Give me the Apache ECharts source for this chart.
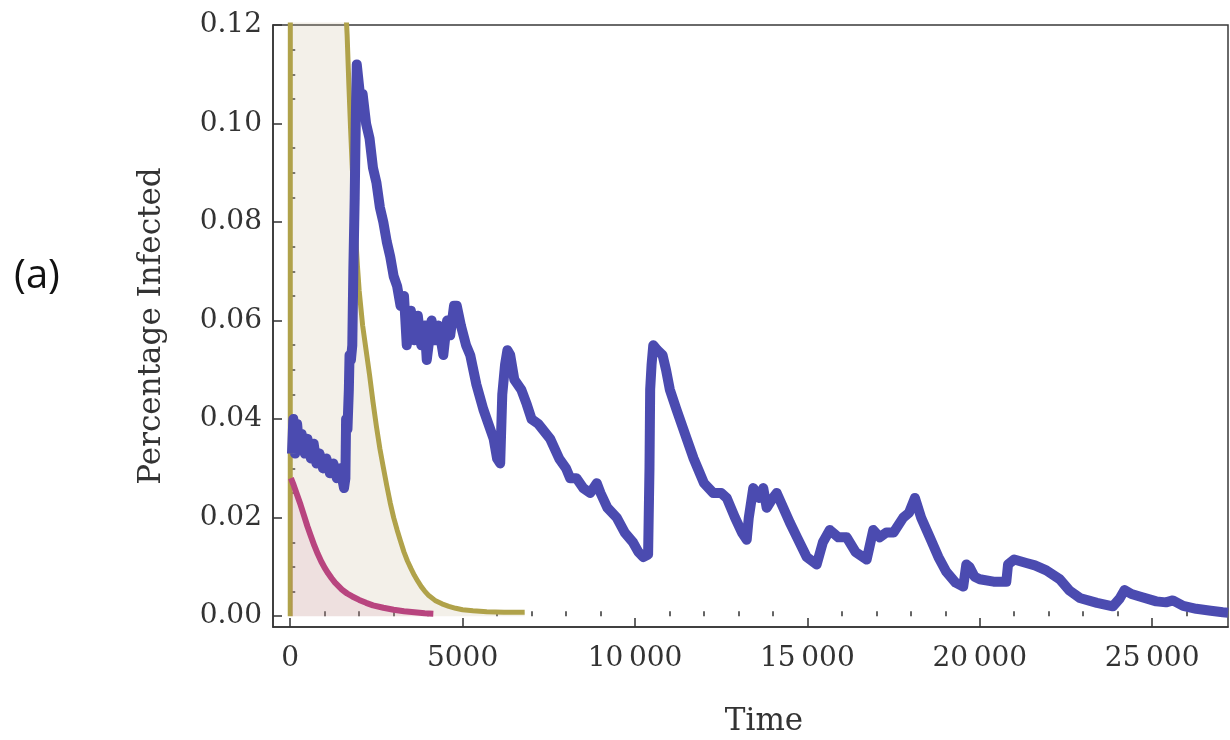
<!DOCTYPE html>
<html>
<head>
<meta charset="utf-8">
<script src="https://cdn.jsdelivr.net/npm/echarts@6/dist/echarts.min.js"></script>
<style>
html,body{margin:0;padding:0;background:#fff;}
#chart{width:1230px;height:740px;}
</style>
</head>
<body>
<div id="chart"></div>
<script>
// ---------- data ----------
const xTickValues = [0, 5000, 10000, 15000, 20000, 25000];
const xTickLabels = ['0', '5000', '10\u2009000', '15\u2009000', '20\u2009000', '25\u2009000'];
const xMinorTicks = [1000,2000,3000,4000,6000,7000,8000,9000,11000,12000,13000,14000,16000,17000,18000,19000,21000,22000,23000,24000,26000,27000];
const yTickValues = [0, 0.02, 0.04, 0.06, 0.08, 0.10, 0.12];
const yTickLabels = ['0.00', '0.02', '0.04', '0.06', '0.08', '0.10', '0.12'];
const yMinorTicks = [0.005,0.01,0.015,0.025,0.03,0.035,0.045,0.05,0.055,0.065,0.07,0.075,0.085,0.09,0.095,0.105,0.11,0.115];

// olive series (rises far above the plot range at t = 0, clipped)
const oliveSeries = [
  [0,0],[5,0.30],[800,0.22],[1400,0.15],[1600,0.125],[1650,0.118],[1700,0.108],[1750,0.099],
  [1800,0.091],[1850,0.084],[1900,0.077],[1950,0.071],[2000,0.066],[2100,0.059],[2200,0.054],
  [2300,0.049],[2400,0.0435],[2500,0.0385],[2600,0.034],[2700,0.0302],[2800,0.0265],[2900,0.023],
  [3000,0.020],[3100,0.0175],[3200,0.0152],[3300,0.013],[3400,0.0112],[3500,0.0097],[3600,0.0083],
  [3700,0.0071],[3800,0.006],[3900,0.0051],[4000,0.0043],[4200,0.0032],[4400,0.0025],[4600,0.002],
  [4800,0.0016],[5000,0.0013],[5300,0.0011],[5700,0.0009],[6200,0.0008],[6800,0.0008]
];

// magenta series
const pinkSeries = [
  [20,0.028],[100,0.0266],[200,0.0246],[300,0.0226],[400,0.0204],[500,0.0182],[600,0.0162],
  [700,0.0143],[800,0.0126],[900,0.0111],[1000,0.0098],[1100,0.0087],[1200,0.0077],[1300,0.0068],
  [1400,0.0061],[1500,0.0054],[1650,0.0046],[1800,0.004],[2000,0.0033],[2200,0.0027],[2400,0.0022],
  [2700,0.0017],[3000,0.0013],[3300,0.001],[3600,0.0008],[3900,0.0006],[4150,0.0005]
];

// blue (stochastic) series
const blueSeries = [
  [50,0.033],[90,0.040],[140,0.033],[200,0.039],[260,0.034],[330,0.037],[420,0.033],[500,0.036],
  [600,0.032],[680,0.035],[760,0.031],[850,0.033],[950,0.030],[1050,0.032],[1150,0.029],[1250,0.031],
  [1350,0.028],[1450,0.030],[1560,0.026],[1600,0.028],[1620,0.040],[1660,0.038],[1700,0.046],
  [1720,0.053],[1760,0.052],[1800,0.055],[1830,0.070],[1870,0.085],[1900,0.100],[1930,0.112],
  [1980,0.112],[2050,0.104],[2100,0.106],[2200,0.100],[2300,0.097],[2400,0.091],[2500,0.088],
  [2600,0.083],[2700,0.080],[2800,0.076],[2900,0.073],[3000,0.069],[3100,0.067],[3200,0.063],
  [3300,0.065],[3380,0.055],[3500,0.062],[3600,0.056],[3700,0.061],[3800,0.055],[3900,0.059],
  [3960,0.052],[4100,0.060],[4200,0.056],[4300,0.059],[4440,0.053],[4550,0.060],[4640,0.057],
  [4750,0.063],[4830,0.063],[4950,0.059],[5100,0.055],[5220,0.053],[5400,0.047],[5600,0.042],
  [5750,0.039],[5900,0.036],[6000,0.032],[6090,0.031],[6150,0.045],[6230,0.051],[6300,0.054],
  [6380,0.053],[6500,0.048],[6700,0.046],[6860,0.043],[7000,0.040],[7200,0.039],[7540,0.036],
  [7800,0.032],[8000,0.030],[8120,0.028],[8300,0.028],[8500,0.026],[8700,0.025],[8890,0.027],
  [9000,0.025],[9200,0.022],[9470,0.020],[9700,0.017],[9940,0.015],[10100,0.013],[10240,0.012],
  [10380,0.0125],[10420,0.030],[10440,0.046],[10480,0.051],[10530,0.055],[10650,0.054],[10800,0.053],
  [10900,0.050],[11010,0.046],[11200,0.042],[11500,0.036],[11700,0.032],[11880,0.029],[12000,0.027],
  [12270,0.025],[12500,0.025],[12660,0.024],[12900,0.020],[13100,0.017],[13240,0.0155],[13300,0.020],
  [13430,0.026],[13600,0.024],[13720,0.026],[13820,0.022],[14000,0.024],[14110,0.025],[14300,0.022],
  [14490,0.019],[14700,0.016],[14980,0.012],[15270,0.0105],[15450,0.015],[15650,0.0175],[15900,0.016],
  [16140,0.016],[16400,0.013],[16720,0.0115],[16800,0.014],[16910,0.0175],[17100,0.016],[17290,0.017],
  [17500,0.017],[17780,0.020],[17950,0.021],[18120,0.024],[18300,0.020],[18550,0.016],[18800,0.012],
  [19030,0.009],[19300,0.0068],[19520,0.006],[19610,0.0105],[19700,0.010],[19850,0.008],[20000,0.0075],
  [20400,0.007],[20770,0.007],[20820,0.0105],[21000,0.0115],[21350,0.0108],[21600,0.0103],[21930,0.0093],
  [22320,0.0075],[22600,0.0052],[22900,0.0037],[23400,0.0027],[23860,0.002],[24050,0.0035],
  [24200,0.0053],[24400,0.0045],[24640,0.004],[25120,0.003],[25400,0.0028],[25600,0.0032],
  [25900,0.0021],[26280,0.0015],[26700,0.0011],[27050,0.0008],[27200,0.0007]
];

// ---------- chart ----------
const X_MIN = -500, X_MAX = 27200, Y_MIN = -0.0022, Y_MAX = 0.12;
const serif = 'DejaVu Serif';
const axisColor = '#333';

const chart = echarts.init(document.getElementById('chart'), null, {renderer: 'canvas'});

const majorX = {
  type: 'value', min: X_MIN, max: X_MAX, position: 'bottom',
  axisLine: {show: true, onZero: false, lineStyle: {color: axisColor, width: 1.5}},
  axisTick: {show: true, inside: true, length: 9, customValues: xTickValues, lineStyle: {color: axisColor, width: 1.5}},
  axisLabel: {show: true, customValues: xTickValues, margin: 18, color: '#333', fontFamily: serif, fontSize: 28,
    formatter: v => xTickLabels[xTickValues.indexOf(v)]},
  splitLine: {show: false}
};
const minorX = {
  type: 'value', min: X_MIN, max: X_MAX, position: 'bottom',
  axisLine: {show: false},
  axisTick: {show: true, inside: true, length: 5, customValues: xMinorTicks, lineStyle: {color: axisColor, width: 1.5}},
  axisLabel: {show: false},
  splitLine: {show: false}
};
const majorY = {
  type: 'value', min: Y_MIN, max: Y_MAX, position: 'left',
  axisLine: {show: true, onZero: false, lineStyle: {color: axisColor, width: 1.5}},
  axisTick: {show: true, inside: true, length: 9, customValues: yTickValues, lineStyle: {color: axisColor, width: 1.5}},
  axisLabel: {show: true, customValues: yTickValues, margin: 11, color: '#333', fontFamily: serif, fontSize: 28,
    formatter: v => { const i = yTickValues.findIndex(t => Math.abs(t - v) < 1e-9); return i >= 0 ? yTickLabels[i] : ''; }},
  splitLine: {show: false}
};
const minorY = {
  type: 'value', min: Y_MIN, max: Y_MAX, position: 'left',
  axisLine: {show: false},
  axisTick: {show: true, inside: true, length: 5, customValues: yMinorTicks, lineStyle: {color: axisColor, width: 1.5}},
  axisLabel: {show: false},
  splitLine: {show: false}
};

chart.setOption({
  animation: false,
  backgroundColor: '#ffffff',
  grid: {left: 273, right: 2, top: 25, bottom: 113, show: true, borderColor: '#3a3a3a', borderWidth: 1.5, backgroundColor: 'transparent'},
  xAxis: [majorX, minorX],
  yAxis: [majorY, minorY],
  graphic: [
    {type: 'text', x: 152, y: 326, rotation: Math.PI / 2,
     style: {text: 'Percentage Infected', fontFamily: serif, fontSize: 31, fill: '#333', textAlign: 'center', textVerticalAlign: 'middle'}},
    {type: 'text', x: 764, y: 722,
     style: {text: 'Time', fontFamily: serif, fontSize: 31, fill: '#333', textAlign: 'center', textVerticalAlign: 'middle'}},
    {type: 'text', x: 37, y: 277,
     style: {text: '(a)', fontFamily: 'Open Sans', fontSize: 40, fill: '#111', textAlign: 'center', textVerticalAlign: 'middle'}}
  ],
  series: [
    {type: 'line', name: 'olive', data: oliveSeries, xAxisIndex: 0, yAxisIndex: 0, showSymbol: false,
     smooth: false, clip: true, z: 2,
     lineStyle: {color: '#b0a24a', width: 5, join: 'round'}, areaStyle: {color: 'rgba(200,185,150,0.3)', origin: 0}},
    {type: 'line', name: 'magenta', data: pinkSeries, xAxisIndex: 0, yAxisIndex: 0, showSymbol: false,
     smooth: false, clip: true, z: 3,
     lineStyle: {color: '#b8457f', width: 6, join: 'round'}, areaStyle: {color: 'rgba(184,69,127,0.13)', origin: 0}},
    {type: 'line', name: 'blue', data: blueSeries, xAxisIndex: 0, yAxisIndex: 0, showSymbol: false,
     smooth: false, clip: true, z: 4,
     lineStyle: {color: '#4b4bb0', width: 10, join: 'round'}}
  ]
});
</script>
</body>
</html>
